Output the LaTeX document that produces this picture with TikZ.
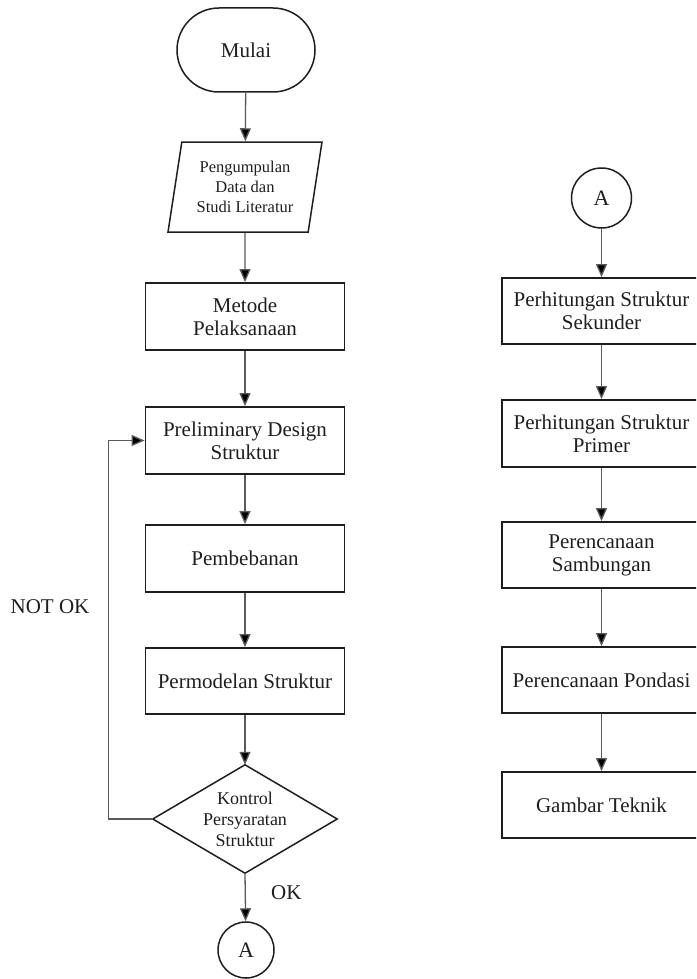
\documentclass[tikz,border=0pt]{standalone}
\usepackage{fontspec}
\setmainfont{Liberation Serif}
\usetikzlibrary{shapes.geometric,arrows.meta}
\definecolor{ink}{HTML}{1E1E1E}
\definecolor{wire}{HTML}{5A5A5A}
\begin{document}
\begin{tikzpicture}[x=1pt,y=-1pt,
  box/.style={draw=ink,line width=1.8pt,minimum width=199pt,minimum height=67pt,inner sep=0pt,align=center,font=\fontsize{21}{23}\selectfont,text=ink},
  term/.style={draw=ink,line width=1.5pt,rounded corners=42pt,minimum width=138pt,minimum height=84pt,inner sep=0pt,font=\fontsize{21}{23}\selectfont,text=ink},
  iobox/.style={draw=ink,line width=1.5pt,trapezium,trapezium left angle=75,trapezium right angle=105,trapezium stretches body,minimum width=154pt,minimum height=90pt,inner sep=0pt,align=center,font=\fontsize{16.5}{20}\selectfont,text=ink},
  conn/.style={draw=ink,line width=1.5pt,circle,minimum size=58pt,inner sep=0pt,font=\fontsize{22}{24}\selectfont,text=ink},
  decbox/.style={minimum width=184pt,minimum height=108pt,inner sep=0pt,align=center,font=\fontsize{18}{21}\selectfont,text=ink},
  lbl/.style={font=\fontsize{21}{23}\selectfont,text=ink,inner sep=0pt},
  arr/.style={draw=wire,line width=1.3pt,-{Triangle[length=13pt,width=11pt,fill=black]}}
]
\useasboundingbox (0,0) rectangle (696,979);
\clip (0,0) rectangle (696,979);
% left column
\node[term] (mulai) at (246,50) {Mulai};
\node[iobox] (data) at (245,187) {Pengumpulan\\Data dan\\Studi Literatur};
\node[box] (metode) at (245,316.5) {Metode\\Pelaksanaan};
\node[box] (prelim) at (245,440.5) {Preliminary Design\\Struktur};
\node[box] (beban) at (245,558.5) {Pembebanan};
\node[box,minimum height=66pt] (model) at (245,681) {Permodelan Struktur};
\node[decbox] (kontrol) at (245,819) {Kontrol\\Persyaratan\\Struktur};
\draw[draw=ink,line width=1.5pt] (kontrol.north) -- (kontrol.east) -- (kontrol.south) -- (kontrol.west) -- cycle;
\node[conn,minimum size=56pt] (a1) at (246,950) {A};
\node[lbl,anchor=west] (ok) at (271,893) {OK};
\node[lbl] (notok) at (50,607) {NOT OK};
\draw[arr] (mulai) -- (data);
\draw[arr] (data) -- (metode);
\draw[arr] (metode) -- (prelim);
\draw[arr] (prelim) -- (beban);
\draw[arr] (beban) -- (model);
\draw[arr] (model) -- (kontrol.north);
\draw[arr] (kontrol.south) -- (a1);
\draw[arr] (kontrol.west) -- ++(-44,0) |- (prelim.west);
% right column
\node[conn,minimum size=60pt] (a2) at (601.5,198) {A};
\node[box,minimum height=66pt] (sek) at (601.5,311) {Perhitungan Struktur\\Sekunder};
\node[box] (pri) at (601.5,433.5) {Perhitungan Struktur\\Primer};
\node[box,minimum height=66pt] (samb) at (601.5,555) {Perencanaan\\Sambungan};
\node[box,minimum height=66pt] (pond) at (601.5,680) {Perencanaan Pondasi};
\node[box,minimum height=66pt] (gbr) at (601.5,805) {Gambar Teknik};
\draw[arr] (a2) -- (sek);
\draw[arr] (sek) -- (pri);
\draw[arr] (pri) -- (samb);
\draw[arr] (samb) -- (pond);
\draw[arr] (pond) -- (gbr);
\end{tikzpicture}
\end{document}
